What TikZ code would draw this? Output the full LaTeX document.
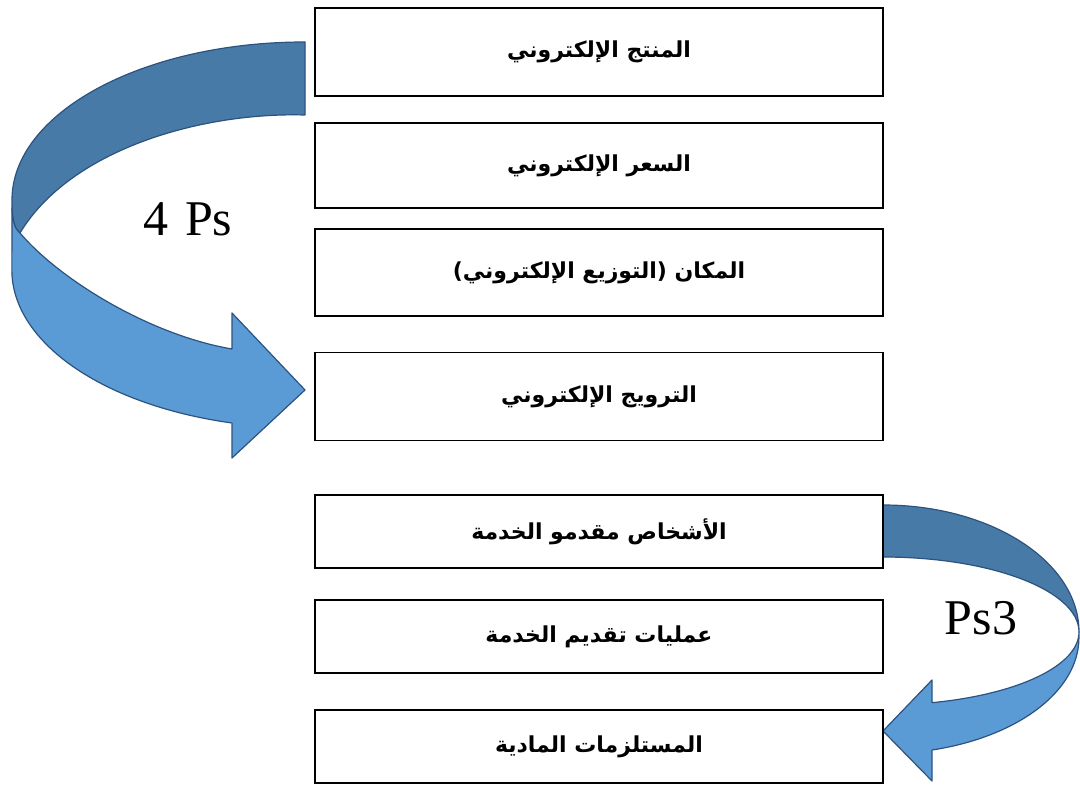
\documentclass[tikz,border=0pt]{standalone}
\usepackage{fontspec}
\setmainfont{Liberation Serif}
\newfontfamily\arabicfont[Script=Arabic]{DejaVu Sans}
\TeXXeTstate=1
\newcommand{\artxt}[1]{{\arabicfont\bfseries\fontsize{11}{13}\selectfont\beginR #1\endR}}
\definecolor{darkband}{RGB}{72,122,168}
\definecolor{lightband}{RGB}{91,155,213}
\definecolor{bandline}{RGB}{44,82,126}

\begin{document}
\begin{tikzpicture}[x=0.5pt,y=0.5pt,
    pbox/.style={draw,line width=0.8pt,minimum width=284pt,minimum height=44pt,inner sep=0pt},
    sbox/.style={pbox,minimum height=36.5pt},
    band/.style={draw=bandline,line width=0.6pt,line join=round},
    plabel/.style={font=\fontsize{25}{30}\selectfont}]
    \useasboundingbox (0,0) rectangle (1080,-785);

    % the big curved arrow (4 Ps)
    \draw[band,fill=lightband] (12,-208) .. controls (13,-222) and (15,-229) .. (20,-233)
        .. controls (60,-280) and (150,-335) .. (232,-349)
        -- (232,-313) -- (305,-390) -- (232,-458) -- (232,-423)
        arc[start angle=255.6,end angle=180,x radius=293,y radius=158] -- cycle;
    \draw[band,fill=darkband] (305,-42) arc[start angle=90,end angle=180,x radius=293,y radius=158]
        -- (12,-208) .. controls (13,-222) and (15,-229) .. (20,-233)
        .. controls (70,-150) and (200,-112) .. (305,-115) -- cycle;

    % the small curved arrow (Ps3)
    \draw[band,fill=lightband] (1079,-632) arc[start angle=0,end angle=-75.5,x radius=196,y radius=73]
        -- (932,-680) -- (883,-731) -- (932,-781) -- (932,-750)
        arc[start angle=-75.5,end angle=0,x radius=196,y radius=116] -- cycle;
    \draw[band,fill=darkband] (883,-505) arc[start angle=90,end angle=0,x radius=196,y radius=127]
        arc[start angle=0,end angle=90,x radius=196,y radius=75] -- cycle;

    \node[pbox] (P1) at (599,-52) {\artxt{المنتج الإلكتروني}};
    \node[pbox,minimum height=42.5pt] (P2) at (599,-165.5) {\artxt{السعر الإلكتروني}};
    \node[pbox,minimum height=43.5pt] (P3) at (599,-272.5) {\artxt{المكان (التوزيع الإلكتروني)}};
    \node[pbox] (P4) at (599,-396.5) {\artxt{الترويج الإلكتروني}};

    \node[sbox] (S1) at (599,-531.5) {\artxt{الأشخاص مقدمو الخدمة}};
    \node[sbox] (S2) at (599,-636.5) {\artxt{عمليات تقديم الخدمة}};
    \node[sbox] (S3) at (599,-746.5) {\artxt{المستلزمات المادية}};

    \node[plabel] (four) at (188,-219) {4\,\,Ps};
    \node[plabel] (three) at (981,-618) {Ps3};
\end{tikzpicture}
\end{document}
